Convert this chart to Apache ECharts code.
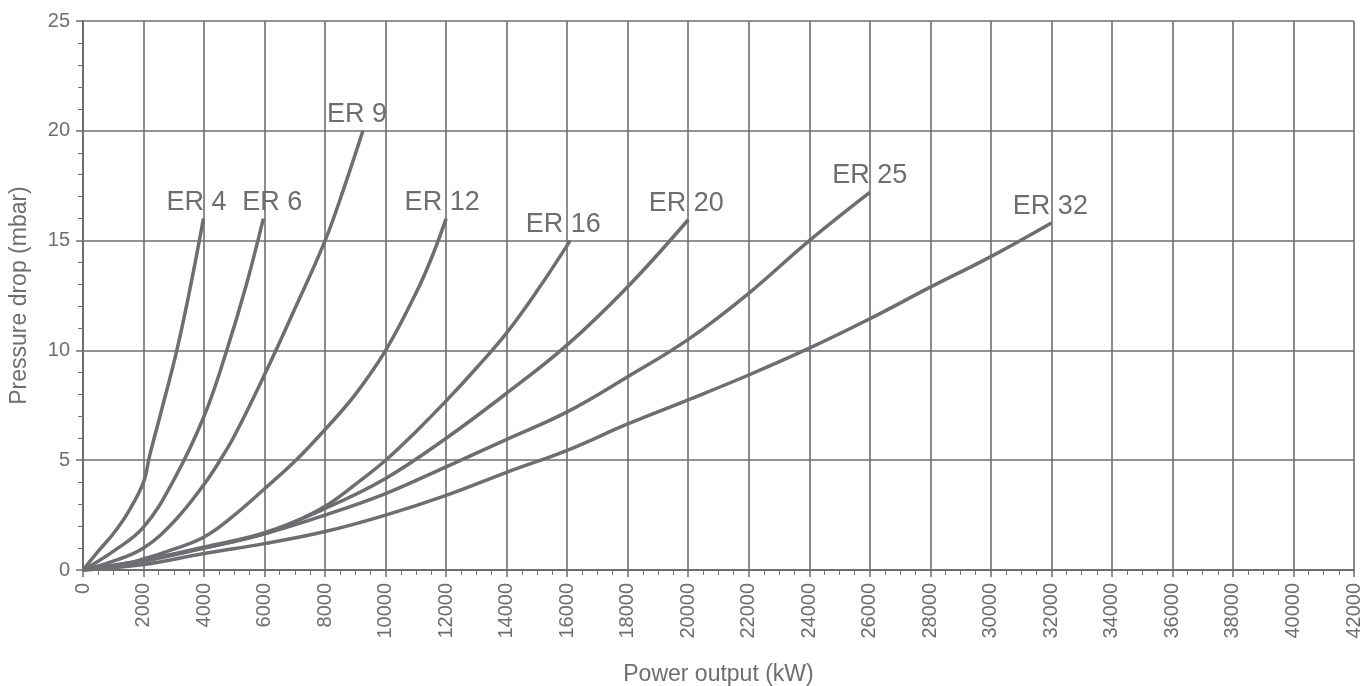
<!DOCTYPE html>
<html>
<head>
<meta charset="utf-8">
<script src="https://cdn.jsdelivr.net/npm/echarts@6/dist/echarts.min.js"></script>
<style>
html,body{margin:0;padding:0;background:#fff;}
#chart{width:1368px;height:686px;}
</style>
</head>
<body>
<div id="chart"></div>
<script>
// ---- data ----
const seriesNames = ["ER 4", "ER 6", "ER 9", "ER 12", "ER 16", "ER 20", "ER 25", "ER 32"];

const er4X  = [0, 500, 1000, 1500, 2000, 2200, 2600, 3100, 3550, 3980];
const er4Y  = [0, 0.85, 1.65, 2.65, 4.0, 5.2, 7.3, 10.0, 12.9, 16.0];

const er6X  = [0, 1000, 2000, 3000, 4000, 4750, 5400, 5960];
const er6Y  = [0, 0.85, 1.95, 4.1, 7.0, 10.0, 13.0, 16.0];

const er9X  = [0, 1000, 2000, 3000, 4000, 4530, 5000, 6000, 7000, 8000, 8600, 9250];
const er9Y  = [0, 0.4, 1.0, 2.2, 3.9, 5.0, 6.1, 8.9, 11.9, 15.0, 17.3, 20.0];

const er12X = [0, 1000, 2000, 3000, 4000, 5000, 6000, 7000, 8000, 9000, 10000, 11000, 11500, 12000];
const er12Y = [0, 0.15, 0.5, 0.95, 1.5, 2.5, 3.7, 4.95, 6.4, 8.0, 10.0, 12.6, 14.15, 16.0];

const er16X = [0, 2000, 4000, 6000, 7000, 8000, 9000, 10000, 11000, 12000, 13000, 14000, 15000, 16100];
const er16Y = [0, 0.45, 1.0, 1.65, 2.2, 2.9, 3.9, 5.0, 6.3, 7.7, 9.2, 10.8, 12.7, 15.0];

const er20X = [0, 2000, 4000, 6000, 8000, 10000, 12000, 14000, 16000, 18000, 20000];
const er20Y = [0, 0.45, 1.05, 1.7, 2.8, 4.17, 6.0, 8.05, 10.25, 12.9, 15.95];

const er25X = [0, 2000, 4000, 6000, 8000, 10000, 12000, 14000, 16000, 18000, 20000, 22000, 24000, 26000];
const er25Y = [0, 0.4, 1.0, 1.65, 2.5, 3.48, 4.7, 5.95, 7.2, 8.8, 10.5, 12.6, 15.0, 17.2];

const er32X = [0, 2000, 4000, 6000, 8000, 10000, 12000, 14000, 16000, 18000, 20000, 22000, 24000, 26000, 28000, 30000, 32000];
const er32Y = [0, 0.25, 0.75, 1.2, 1.75, 2.5, 3.4, 4.45, 5.45, 6.65, 7.75, 8.88, 10.1, 11.44, 12.88, 14.27, 15.8];

const xTicks = { min: 0, max: 42000, interval: 2000 };
const yTicks = { min: 0, max: 25, interval: 5 };

// ---- layout / style (not data) ----
const labelDx = [-7, 9, -6, -4, -7, -2, 0, -1];
const GRAY = '#6d6e71';
const FONT = '"Liberation Sans", Arial, Helvetica, sans-serif';

const allX = [er4X, er6X, er9X, er12X, er16X, er20X, er25X, er32X];
const allY = [er4Y, er6Y, er9Y, er12Y, er16Y, er20Y, er25Y, er32Y];

const series = seriesNames.map((name, i) => {
  const xs = allX[i], ys = allY[i];
  return {
    name: name,
    type: 'line',
    data: xs.map((x, j) => [x, ys[j]]),
    smooth: 0.4,
    showSymbol: false,
    symbol: 'none',
    lineStyle: { color: GRAY, width: 3.5 },
    itemStyle: { color: GRAY },
    endLabel: {
      show: true,
      formatter: '{a}',
      align: 'center',
      verticalAlign: 'bottom',
      distance: 0,
      offset: [labelDx[i], -3],
      color: GRAY,
      fontSize: 27,
      fontFamily: FONT
    },
    emphasis: { disabled: true },
    animation: false,
    z: 3
  };
});

const chart = echarts.init(document.getElementById('chart'), null, { renderer: 'canvas' });
chart.setOption({
  animation: false,
  backgroundColor: '#ffffff',
  textStyle: { fontFamily: FONT, color: GRAY },
  grid: { left: 83, right: 14, top: 21, bottom: 116, containLabel: false, outerBoundsMode: 'none' },
  xAxis: {
    type: 'value',
    min: xTicks.min, max: xTicks.max, interval: xTicks.interval,
    name: 'Power output (kW)',
    nameLocation: 'middle',
    nameGap: 93,
    nameTextStyle: { color: GRAY, fontSize: 23, fontFamily: FONT },
    axisLine: { show: true, onZero: false, lineStyle: { color: GRAY, width: 2 } },
    axisTick: { show: true, length: 7, lineStyle: { color: GRAY, width: 1.5 } },
    minorTick: { show: true, splitNumber: 4, length: 5, lineStyle: { color: GRAY, width: 1 } },
    axisLabel: { rotate: 90, margin: 13, color: GRAY, fontSize: 20, fontFamily: FONT,
                 formatter: v => String(v) },
    splitLine: { show: true, lineStyle: { color: GRAY, width: 1.6 } },
    minorSplitLine: { show: false }
  },
  yAxis: {
    type: 'value',
    min: yTicks.min, max: yTicks.max, interval: yTicks.interval,
    name: 'Pressure drop (mbar)',
    nameLocation: 'middle',
    nameGap: 52,
    nameTextStyle: { color: GRAY, fontSize: 23, fontFamily: FONT },
    axisLine: { show: true, onZero: false, lineStyle: { color: GRAY, width: 2 } },
    axisTick: { show: true, length: 7, lineStyle: { color: GRAY, width: 1.5 } },
    minorTick: { show: true, splitNumber: 5, length: 5, lineStyle: { color: GRAY, width: 1 } },
    axisLabel: { margin: 13, color: GRAY, fontSize: 20, fontFamily: FONT,
                 formatter: v => String(v) },
    splitLine: { show: true, lineStyle: { color: GRAY, width: 1.6 } },
    minorSplitLine: { show: false }
  },
  series: series
});
</script>
</body>
</html>
